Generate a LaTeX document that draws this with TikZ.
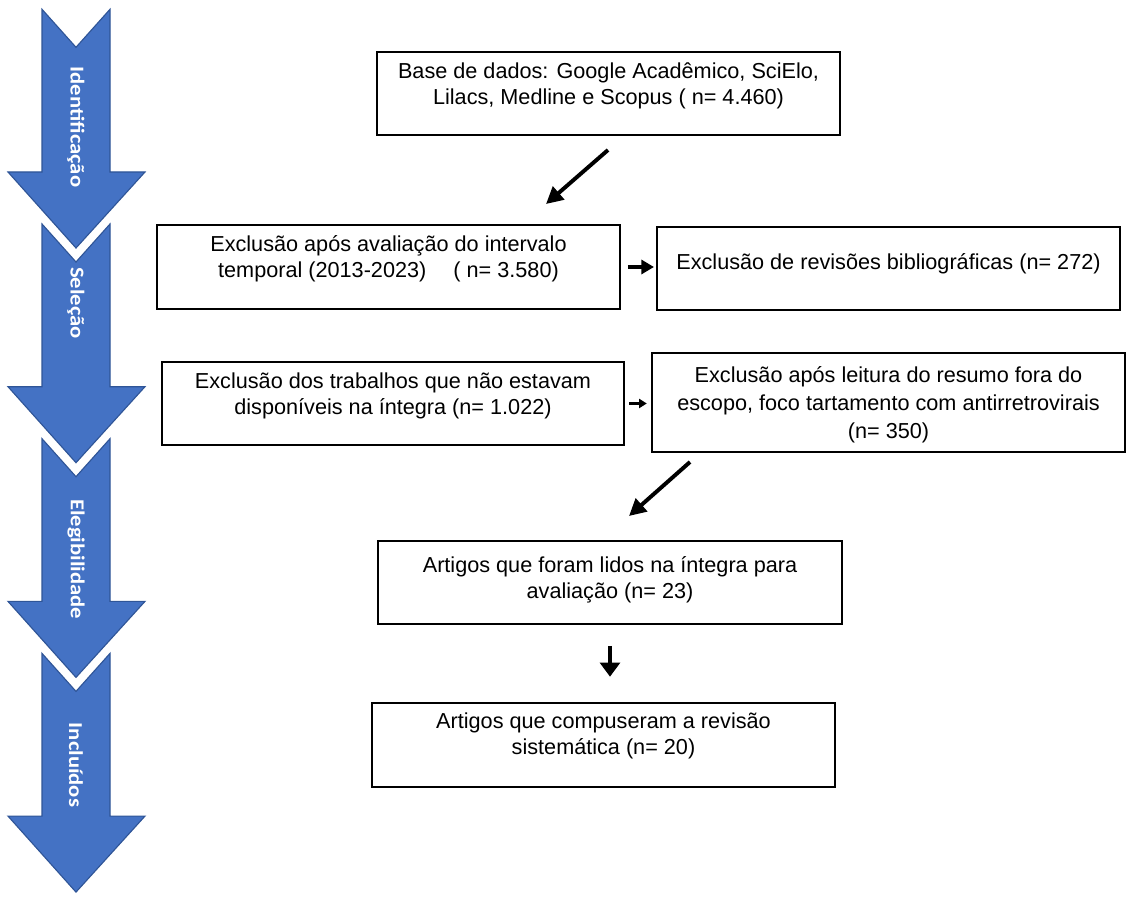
\documentclass[tikz,border=0pt]{standalone}
\usepackage{fontspec}
\usepackage{graphicx}
\usetikzlibrary{arrows.meta}
\newfontfamily\caixafont{Liberation Sans}
\newfontfamily\chevfont{Carlito}
\definecolor{chevazul}{HTML}{4472C4}
\definecolor{chevborda}{HTML}{2F5597}

\tikzset{
  caixa/.style={draw, line width=1.3pt, align=center, inner sep=0pt, font=\caixafont\fontsize{15.4}{18.5}\selectfont},
  seta/.style={line width=2.8pt, -{Triangle[length=12pt,width=12pt]}},
  chev/.style={fill=chevazul, draw=chevborda, line width=0.8pt},
  chevtexto/.style={rotate=-90, text=white, font=\chevfont\bfseries\fontsize{14}{16}\selectfont}
}

\begin{document}
\begin{tikzpicture}[x=0.025cm, y=-0.025cm]
\useasboundingbox (0,0) rectangle (1127,898);
\foreach \lab/\yc [count=\i from 0] in {Identificação/127,Seleção/303,Elegibilidade/559,Incluídos/765}{
  \pgfmathsetmacro\T{248+214.7*\i}
  \draw[chev] (42,\T-238.7) -- (76,\T-200.7) -- (110,\T-238.7) -- (110,\T-76) -- (145,\T-76) -- (76,\T) -- (8,\T-76) -- (42,\T-76) -- cycle;
  \node[chevtexto] (fase\i) at (76,\yc) {\scalebox{1.15}[1]{\lab}};
}
\node[caixa, minimum width=329.3pt, minimum height=59pt, text depth=14.6pt] (base) at (608.5,93.5) {Base de dados: Google Acadêmico, SciElo,\\ Lilacs, Medline e Scopus ( n= 4.460)};
\node[caixa, minimum width=329.3pt, minimum height=59.8pt, text depth=14.6pt] (tempo) at (388.5,267) {Exclusão após avaliação do intervalo\\ temporal (2013-2023)\hspace{1.25em}( n= 3.580)};
\node[caixa, minimum width=329.3pt, minimum height=59pt, text depth=9.6pt] (revis) at (888.5,268.5) {Exclusão de revisões bibliográficas (n= 272)};
\node[caixa, minimum width=328.6pt, minimum height=59pt, text depth=14.6pt] (integra) at (393,403.5) {Exclusão dos trabalhos que não estavam\\ disponíveis na íntegra (n= 1.022)};
\node[caixa, minimum width=336.5pt, minimum height=70.4pt, text depth=0pt, font=\caixafont\fontsize{15.4}{19.9}\selectfont] (resumo) at (888.5,402.5) {Exclusão após leitura do resumo fora do\\ escopo, foco tartamento com antirretrovirais\\ (n= 350)};
\node[caixa, minimum width=330pt, minimum height=59pt, text depth=6.8pt] (lidos) at (610,582.5) {Artigos que foram lidos na íntegra para\\ avaliação (n= 23)};
\node[caixa, minimum width=329.3pt, minimum height=59.8pt, text depth=16pt] (final) at (603.5,745) {Artigos que compuseram a revisão\\ sistemática (n= 20)};
\coordinate (d1s) at (608,150);
\coordinate (d1e) at (546,204);
\coordinate (d2s) at (690,462);
\coordinate (d2e) at (629,516);
\draw[seta] (d1s) -- (d1e);
\draw[seta, line width=2.4pt, -{Triangle[length=9pt,width=10pt]}, shorten <=5pt, shorten >=1.5pt] (tempo.east) -- (tempo.east -| revis.west);
\draw[line width=1.5pt, -{Triangle[length=5.5pt,width=6.5pt]}, shorten <=3pt, shorten >=3pt] (integra.east) -- (integra.east -| resumo.west);
\draw[seta] (d2s) -- (d2e);
\draw[seta, line width=2.5pt, -{Triangle[length=10pt,width=14pt]}, shorten <=15pt, shorten >=18pt] (lidos.south) -- (lidos.south |- final.north);
\end{tikzpicture}
\end{document}
